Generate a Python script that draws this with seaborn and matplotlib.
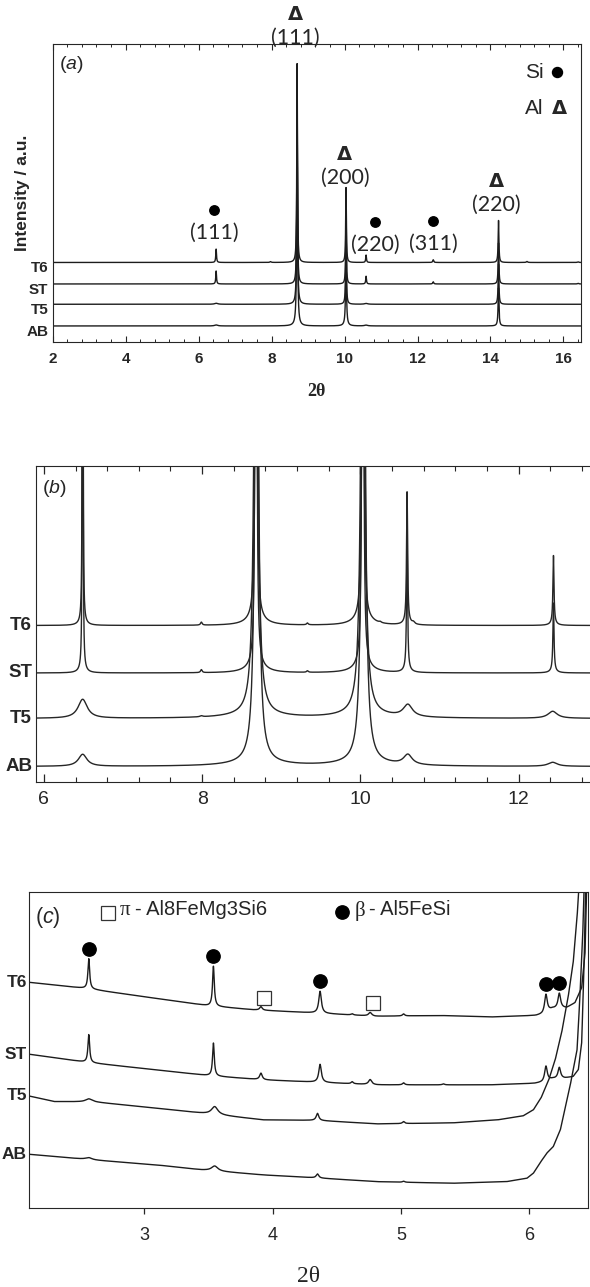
import numpy as np
import matplotlib
matplotlib.use('Agg')
from matplotlib import pyplot as plt
from matplotlib.ticker import MultipleLocator, NullLocator
import matplotlib.transforms as mtrans
import seaborn as sns

sns.set_style('ticks')
plt.rcParams['font.family'] = ['Liberation Sans', 'DejaVu Sans']
plt.rcParams['mathtext.fontset'] = 'custom'
plt.rcParams['mathtext.rm'] = 'Liberation Sans'
plt.rcParams['mathtext.it'] = 'Liberation Sans:italic'

samples = ['T6', 'ST', 'T5', 'AB']
line_col = '#1c1c1c'

# ---------------- data ----------------
# (a) full scan: baseline offset of each pattern and its peaks (centre, height, half width)
a_base = [79.5, 58.0, 37.7, 16.0]
a_peaks = [
    [(6.48, 13.4, 0.012), (7.97, 0.8, 0.02), (8.70, 199, 0.011), (10.04, 75, 0.011),
     (10.59, 7.4, 0.012), (12.43, 2.7, 0.015), (14.22, 42, 0.012), (15.0, 1.0, 0.02), (16.4, 0.6, 0.02)],
    [(6.48, 13.0, 0.012), (8.70, 195, 0.011), (10.04, 74, 0.011), (10.59, 7.7, 0.012),
     (12.43, 2.2, 0.015), (14.22, 41, 0.012), (16.4, 0.6, 0.02)],
    [(6.48, 1.0, 0.05), (8.70, 190, 0.012), (8.70, 2.0, 0.05), (10.04, 72, 0.012),
     (10.59, 0.8, 0.05), (14.22, 40, 0.013)],
    [(6.48, 1.0, 0.05), (8.70, 185, 0.014), (8.70, 3.0, 0.05), (10.04, 70, 0.014),
     (10.04, 2.0, 0.05), (10.59, 0.8, 0.05), (14.22, 38, 0.014)],
]
a_hkl = [('Si', '(111)', 6.48), ('Al', '(111)', 8.70), ('Al', '(200)', 10.04),
         ('Si', '(220)', 10.59), ('Si', '(311)', 12.43), ('Al', '(220)', 14.22)]

# (b) zoom 6-13 deg
b_base = [156.5, 109.0, 63.5, 15.5]
b_peaks = [
    [(6.49, 3000, 0.002), (6.49, 3, 0.05), (7.99, 3, 0.012), (8.68, 4000, 0.004), (8.68, 8, 0.12),
     (9.33, 1.8, 0.012), (10.03, 4000, 0.004), (10.03, 8, 0.12), (10.25, 1.0, 0.015),
     (10.59, 130, 0.008), (10.59, 3, 0.05), (10.67, 2, 0.02), (12.44, 68, 0.008), (12.44, 2, 0.05)],
    [(6.49, 3000, 0.002), (6.49, 3, 0.05), (7.99, 3, 0.012), (8.68, 4000, 0.004), (8.68, 8, 0.12),
     (9.33, 1.5, 0.012), (10.03, 4000, 0.004), (10.03, 8, 0.12),
     (10.59, 130, 0.008), (10.59, 3, 0.05), (12.44, 68, 0.008), (12.44, 2, 0.05)],
    [(6.49, 19, 0.07), (7.99, 1.0, 0.02), (8.68, 4000, 0.004), (8.68, 360, 0.03), (8.68, 3, 0.4),
     (10.03, 4000, 0.004), (10.03, 360, 0.03), (10.03, 3, 0.4), (10.6, 12, 0.07), (12.43, 7, 0.07)],
    [(6.49, 12, 0.065), (8.69, 4000, 0.004), (8.69, 360, 0.03), (8.69, 3, 0.4),
     (10.04, 4000, 0.004), (10.04, 360, 0.03), (10.04, 3, 0.4), (10.6, 10, 0.065), (12.43, 4, 0.07)],
]

# (c) low angle: background trace (x, level) and sharp peaks
c_bg_x = [
    [2.10, 2.57, 2.71, 3.50, 3.85, 4.30, 4.80, 5.30, 5.70, 6.05, 6.10, 6.18, 6.29, 6.354, 6.406, 6.432, 6.445, 6.47],
    [2.10, 2.567, 3.52, 3.93, 4.81, 5.69, 6.04, 6.10, 6.18, 6.276, 6.34, 6.38, 6.406, 6.424, 6.436, 6.47],
    [2.10, 2.30, 2.60, 3.10, 3.45, 3.93, 4.35, 4.81, 5.40, 5.75, 5.95, 6.03, 6.09, 6.15, 6.20, 6.25, 6.30,
     6.34, 6.37, 6.39, 6.42],
    [2.10, 2.60, 3.10, 3.45, 3.93, 4.35, 4.81, 5.40, 5.82, 5.98, 6.03, 6.08, 6.134, 6.185, 6.24, 6.315, 6.37,
     6.39, 6.414, 6.424, 6.47],
]
c_bg_y = [
    [225.5, 219, 216.3, 202, 198, 195, 191.5, 192.3, 190.8, 192.3, 193.5, 199, 200, 205, 220, 254, 318, 450],
    [153.7, 145.3, 132, 128, 123, 123, 124.5, 125.5, 129, 129.7, 131.3, 138, 165, 238, 318, 450],
    [112, 106.3, 106, 99.7, 94.7, 88, 87.5, 84, 85, 88, 92, 98, 110, 128, 148, 175, 210,
     245, 290, 330, 450],
    [53.7, 48, 43, 38, 33, 30, 26.3, 24.7, 26.3, 29.7, 34.7, 44.7, 54.7, 61.3, 78, 121.3, 158,
     205, 271, 318, 450],
]
c_peaks = [
    [(2.57, 30, 0.008), (3.54, 40, 0.008), (3.91, 3.5, 0.012), (4.37, 22, 0.012), (4.62, 1.2, 0.01),
     (4.76, 3.5, 0.015), (5.02, 2, 0.01), (6.128, 18, 0.012), (6.232, 15, 0.012)],
    [(2.57, 28, 0.008), (3.54, 33, 0.008), (3.91, 6.5, 0.012), (4.37, 18, 0.012), (4.62, 2, 0.01),
     (4.76, 5, 0.015), (5.02, 2, 0.01), (5.33, 1, 0.01), (6.128, 15, 0.012), (6.232, 11, 0.012)],
    [(2.57, 3, 0.03), (3.55, 8, 0.03), (4.35, 7, 0.012), (5.02, 2, 0.01)],
    [(2.57, 2, 0.03), (3.55, 5, 0.03), (4.35, 4, 0.012), (5.02, 1, 0.01)],
]
c_beta = [2.57, 3.54, 4.37, 6.128, 6.232]   # beta - Al5FeSi reflections (T6)
c_pi = [3.91, 4.76]                          # pi - Al8FeMg3Si6 reflections (T6)


def pattern(x, peaks):
    y = np.zeros_like(x)
    for c, h, g in peaks:
        y += h * g ** 2 / ((x - c) ** 2 + g ** 2)
    return y


fig = plt.figure(figsize=(5.9, 12.87), dpi=100)

# ---------------- (a) ----------------
ax = fig.add_axes([0.0893, 0.7343, 0.8954, 0.2315])
xa = np.linspace(2.0, 16.5, 9000)
a_curves = []
for i, s in enumerate(samples):
    ya = a_base[i] + pattern(xa, a_peaks[i])
    a_curves.append(ya)
    sns.lineplot(x=xa, y=ya, ax=ax, color=line_col, linewidth=1.0)
ax.set_xlim(2.0, 16.48)
ax.set_ylim(0, 298)
ax.xaxis.set_major_locator(MultipleLocator(2))
ax.xaxis.set_minor_locator(MultipleLocator(0.4))
ax.yaxis.set_major_locator(NullLocator())
ax.tick_params(axis='x', which='both', direction='in', top=True, pad=7.5)
ax.tick_params(axis='x', which='major', length=4.5, width=0.8)
ax.tick_params(axis='x', which='minor', length=2.5, width=0.7)
for lab in ax.get_xticklabels():
    lab.set_fontweight('bold')
    lab.set_fontsize(11)
ax.set_xlabel('2θ', family=['Liberation Serif'], fontweight='bold', fontsize=13, labelpad=12)
ax.text(-0.058, 0.5, 'Intensity / a.u.', rotation=90, ha='center', va='center',
        transform=ax.transAxes, fontweight='bold', fontsize=12.5)
trans = mtrans.blended_transform_factory(ax.transAxes, ax.transData)
for i, s in enumerate(samples):
    ax.text(-0.008, a_base[i] - 6, s, transform=trans, ha='right', va='center',
            fontweight='bold', fontsize=11)
ax.text(0.012, 0.93, r'($\it{a}$)', transform=ax.transAxes, ha='left', va='center', fontsize=14)

top = np.max(a_curves, axis=0)
nudge = {1: (-0.04, 10), 2: (-0.03, -6), 3: (0.25, -6), 0: (-0.06, 0), 5: (-0.05, 0), 4: (0, 0)}
for k, (ph, hkl, pos) in enumerate(a_hkl):
    near = np.abs(xa - pos) < 0.05
    dx, dy = nudge[k]
    ly = top[near].max() + 16 + dy
    ax.text(pos + dx, ly, hkl, ha='center', va='center', family=['Lato'], fontsize=15.5, clip_on=False)
    if ph == 'Si':
        ax.plot([pos + dx], [ly + 23], 'o', ms=6.8, color='k', clip_on=False)
    else:
        ax.text(pos + dx, ly + 23, 'Δ', ha='center', va='center', family=['DejaVu Sans'],
                fontweight='bold', fontsize=14, clip_on=False)
ax.text(0.894, 0.904, 'Si', transform=ax.transAxes, ha='left', va='center', fontsize=15)
ax.plot([0.954], [0.907], 'o', ms=7.2, color='k', transform=ax.transAxes)
ax.text(0.894, 0.782, 'Al', transform=ax.transAxes, ha='left', va='center', fontsize=15)
ax.text(0.960, 0.784, 'Δ', transform=ax.transAxes, ha='center', va='center',
        family=['DejaVu Sans'], fontweight='bold', fontsize=14)

# ---------------- (b) ----------------
ax = fig.add_axes([0.0610, 0.3924, 0.9492, 0.2455])
xb = np.linspace(5.9, 13.0, 12000)
for i, s in enumerate(samples):
    yb = b_base[i] + pattern(xb, b_peaks[i])
    sns.lineplot(x=xb, y=yb, ax=ax, color='#262626', linewidth=1.0)
ax.set_xlim(5.9, 12.978)
ax.set_ylim(0, 316)
ax.xaxis.set_major_locator(MultipleLocator(2))
ax.xaxis.set_minor_locator(MultipleLocator(0.4))
ax.yaxis.set_major_locator(NullLocator())
ax.tick_params(axis='x', which='both', direction='in', top=True, pad=6.5, labelsize=14)
ax.tick_params(axis='x', which='major', length=5.5, width=0.9)
ax.tick_params(axis='x', which='minor', length=3.5, width=0.8)
trans = mtrans.blended_transform_factory(ax.transAxes, ax.transData)
for i, s in enumerate(samples):
    ax.text(-0.007, b_base[i], s, transform=trans, ha='right', va='center',
            fontweight='bold', fontsize=13.5)
ax.text(0.01, 0.93, r'($\it{b}$)', transform=ax.transAxes, ha='left', va='center', fontsize=14)

# ---------------- (c) ----------------
ax = fig.add_axes([0.0492, 0.0614, 0.9469, 0.2458])
xc = np.linspace(2.1, 6.47, 9000)
c_curves = []
for i, s in enumerate(samples):
    yc = np.interp(xc, c_bg_x[i], c_bg_y[i]) + pattern(xc, c_peaks[i])
    c_curves.append(yc)
    sns.lineplot(x=xc, y=yc, ax=ax, color=line_col, linewidth=1.0)
ax.set_xlim(2.105, 6.453)
ax.set_ylim(0, 316)
ax.xaxis.set_major_locator(MultipleLocator(1))
ax.yaxis.set_major_locator(NullLocator())
ax.tick_params(axis='x', which='major', direction='out', length=4.5, width=0.9, pad=9, labelsize=13)
ax.set_xlabel('2θ', family=['Liberation Serif'], fontsize=17, labelpad=16)
trans = mtrans.blended_transform_factory(ax.transAxes, ax.transData)
for i, s in enumerate(samples):
    ax.text(-0.004, c_bg_y[i][0], s, transform=trans, ha='right', va='center',
            fontweight='bold', fontsize=12.5)
for pos in c_beta:
    near = np.abs(xc - pos) < 0.02
    ax.plot([pos], [c_curves[0][near].max() + 10], 'o', ms=9.6, color='k')
for pos in c_pi:
    near = np.abs(xc - pos) < 0.02
    ax.plot([pos + 0.02], [c_curves[0][near].max() + 9], 's', ms=9.4, mfc='white', mec='#333333', mew=0.9)
ax.text(0.011, 0.917, r'($\it{c}$)', transform=ax.transAxes, ha='left', va='center', fontsize=15.5)
ax.plot([0.142], [0.933], 's', ms=9.4, mfc='white', mec='#333333', mew=0.9, transform=ax.transAxes)
ax.text(0.162, 0.94, 'π', transform=ax.transAxes, ha='left', va='center',
        family=['Liberation Serif'], fontsize=15)
ax.text(0.19, 0.942, '- Al8FeMg3Si6', transform=ax.transAxes, ha='left', va='center', fontsize=14.5)
ax.plot([0.561], [0.936], 'o', ms=9.6, color='k', transform=ax.transAxes)
ax.text(0.582, 0.94, 'β', transform=ax.transAxes, ha='left', va='center',
        family=['Liberation Serif'], fontsize=15)
ax.text(0.608, 0.942, '- Al5FeSi', transform=ax.transAxes, ha='left', va='center', fontsize=14.5)

fig.savefig('out.png', dpi=100)
